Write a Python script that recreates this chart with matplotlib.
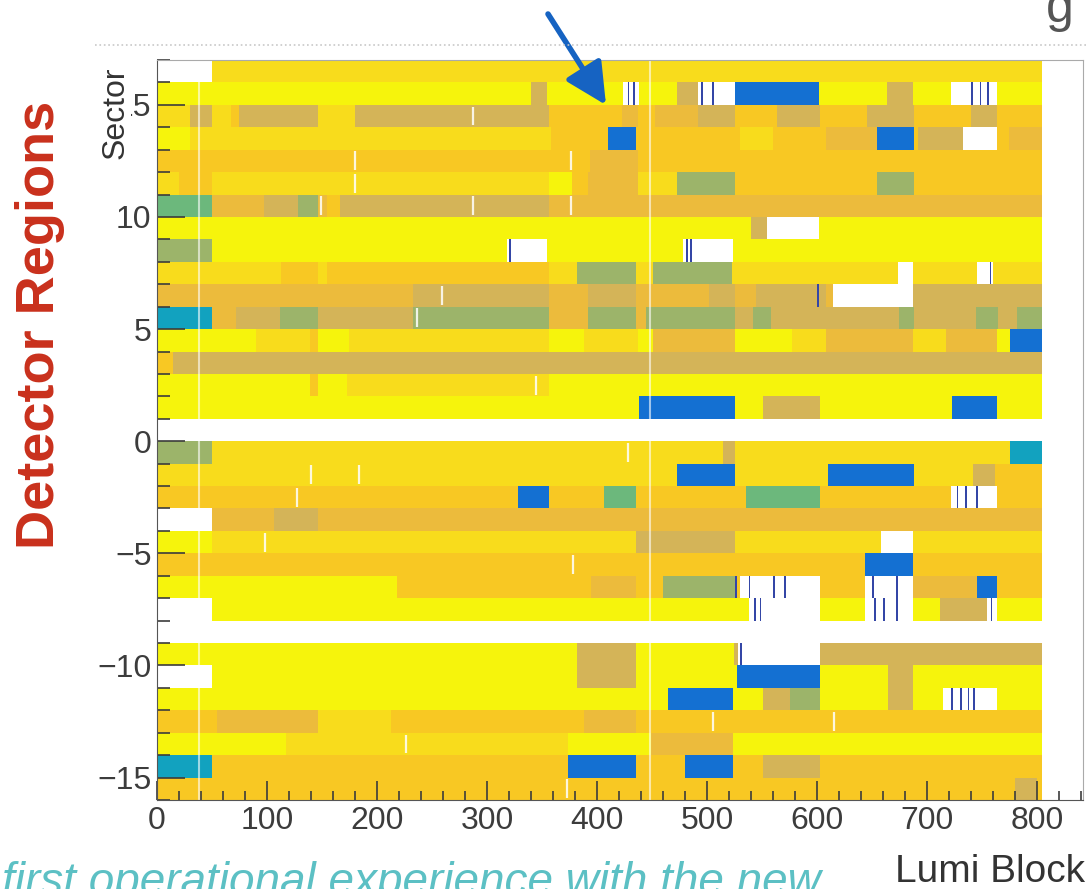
import matplotlib.pyplot as plt
from matplotlib.lines import Line2D

plt.rcParams['font.family'] = ['Liberation Sans', 'DejaVu Sans']

# colour code -> colour (the histogram palette)
palette = {
    'Y': '#f6f40c',  # bright yellow
    'F': '#f8dc1c',  # gold
    'O': '#f8c823',  # orange yellow
    'Q': '#ecbb3c',  # orange tan
    'T': '#d4b458',  # tan
    'G': '#9cb46a',  # grey green
    'E': '#6cb87c',  # green
    'B': '#1470d2',  # blue
    'C': '#12a2bf',  # teal
    'W': '#ffffff',  # empty
}

# one list per sector row: (first lumi block, last lumi block, colour code)
s16 = [(0, 50, 'W'), (50, 805, 'F')]
s15 = [(0, 340, 'Y'), (340, 355, 'T'), (355, 424, 'Y'), (424, 438, 'W'), (438, 473, 'Y'),
       (473, 492, 'T'), (492, 526, 'W'), (526, 602, 'B'), (602, 664, 'Y'), (664, 687, 'T'),
       (687, 722, 'Y'), (722, 764, 'W'), (764, 805, 'Y')]
s14 = [(0, 30, 'F'), (30, 50, 'T'), (50, 67, 'F'), (67, 75, 'O'), (75, 146, 'T'), (146, 180, 'F'),
       (180, 356, 'T'), (356, 423, 'O'), (423, 437, 'Q'), (437, 453, 'O'), (453, 492, 'Q'),
       (492, 526, 'T'), (526, 564, 'O'), (564, 603, 'T'), (603, 646, 'O'), (646, 688, 'T'),
       (688, 740, 'O'), (740, 764, 'T'), (764, 805, 'O')]
s13 = [(0, 30, 'Y'), (30, 358, 'F'), (358, 410, 'O'), (410, 436, 'B'), (436, 530, 'O'),
       (530, 560, 'F'), (560, 608, 'O'), (608, 655, 'Q'), (655, 688, 'B'), (688, 692, 'O'),
       (692, 733, 'T'), (733, 764, 'W'), (764, 775, 'O'), (775, 805, 'Q')]
s12 = [(0, 394, 'O'), (394, 437, 'Q'), (437, 805, 'O')]
s11 = [(0, 20, 'F'), (20, 50, 'O'), (50, 356, 'F'), (356, 377, 'Y'), (377, 392, 'O'),
       (392, 437, 'Q'), (437, 473, 'F'), (473, 526, 'G'), (526, 655, 'O'), (655, 688, 'G'),
       (688, 805, 'O')]
s10 = [(0, 50, 'E'), (50, 97, 'Q'), (97, 128, 'T'), (128, 146, 'G'), (146, 155, 'Q'),
       (155, 166, 'O'), (166, 356, 'T'), (356, 805, 'Q')]
s9 = [(0, 540, 'Y'), (540, 555, 'T'), (555, 602, 'W'), (602, 805, 'Y')]
s8 = [(0, 50, 'G'), (50, 318, 'Y'), (318, 355, 'W'), (355, 478, 'Y'), (478, 524, 'W'),
      (524, 805, 'Y')]
s7 = [(0, 113, 'F'), (113, 146, 'O'), (146, 155, 'F'), (155, 356, 'O'), (356, 382, 'F'),
      (382, 436, 'G'), (436, 451, 'F'), (451, 523, 'G'), (523, 674, 'F'), (674, 687, 'W'),
      (687, 746, 'F'), (746, 760, 'W'), (760, 805, 'F')]
s6 = [(0, 233, 'Q'), (233, 356, 'T'), (356, 392, 'Q'), (392, 436, 'T'), (436, 502, 'Q'),
      (502, 526, 'T'), (526, 545, 'Q'), (545, 608, 'T'), (608, 615, 'Q'), (615, 687, 'W'),
      (687, 805, 'T')]
s5 = [(0, 50, 'C'), (50, 72, 'Q'), (72, 112, 'T'), (112, 146, 'G'), (146, 233, 'T'),
      (233, 356, 'G'), (356, 392, 'Q'), (392, 436, 'G'), (436, 445, 'Q'), (445, 526, 'G'),
      (526, 542, 'T'), (542, 558, 'G'), (558, 675, 'T'), (675, 688, 'G'), (688, 745, 'T'),
      (745, 765, 'G'), (765, 782, 'T'), (782, 805, 'G')]
s4 = [(0, 90, 'Y'), (90, 139, 'F'), (139, 146, 'O'), (146, 175, 'Y'), (175, 356, 'F'),
      (356, 388, 'Y'), (388, 437, 'F'), (437, 451, 'Y'), (451, 526, 'Q'), (526, 577, 'Y'),
      (577, 608, 'F'), (608, 687, 'Q'), (687, 717, 'F'), (717, 764, 'Q'), (764, 776, 'Y'),
      (776, 805, 'B')]
s3 = [(0, 15, 'O'), (15, 805, 'T')]
s2 = [(0, 139, 'Y'), (139, 146, 'O'), (146, 173, 'Y'), (173, 356, 'F'), (356, 805, 'Y')]
s1 = [(0, 438, 'Y'), (438, 526, 'B'), (526, 551, 'Y'), (551, 603, 'T'), (603, 723, 'Y'),
      (723, 764, 'B'), (764, 805, 'Y')]
s0 = [(0, 805, 'W')]
m1 = [(0, 50, 'G'), (50, 515, 'F'), (515, 526, 'T'), (526, 776, 'F'), (776, 805, 'C')]
m2 = [(0, 473, 'F'), (473, 526, 'B'), (526, 610, 'F'), (610, 688, 'B'), (688, 742, 'F'),
      (742, 762, 'T'), (762, 805, 'O')]
m3 = [(0, 328, 'O'), (328, 356, 'B'), (356, 406, 'O'), (406, 436, 'E'), (436, 536, 'O'),
      (536, 603, 'E'), (603, 722, 'O'), (722, 764, 'W'), (764, 805, 'O')]
m4 = [(0, 50, 'W'), (50, 106, 'Q'), (106, 146, 'T'), (146, 805, 'Q')]
m5 = [(0, 50, 'Y'), (50, 436, 'F'), (436, 526, 'T'), (526, 658, 'F'), (658, 687, 'W'),
      (687, 805, 'F')]
m6 = [(0, 644, 'O'), (644, 687, 'B'), (687, 805, 'O')]
m7 = [(0, 218, 'Y'), (218, 395, 'O'), (395, 436, 'Q'), (436, 460, 'O'), (460, 526, 'G'),
      (526, 530, 'O'), (530, 603, 'W'), (603, 644, 'O'), (644, 687, 'W'), (687, 746, 'Q'),
      (746, 764, 'B'), (764, 805, 'O')]
m8 = [(0, 50, 'W'), (50, 538, 'Y'), (538, 603, 'W'), (603, 644, 'Y'), (644, 687, 'W'),
      (687, 712, 'Y'), (712, 755, 'T'), (755, 764, 'W'), (764, 805, 'Y')]
m9 = [(0, 805, 'W')]
m10 = [(0, 382, 'Y'), (382, 436, 'T'), (436, 525, 'Y'), (525, 528, 'T'), (528, 603, 'W'),
       (603, 805, 'T')]
m11 = [(0, 50, 'W'), (50, 382, 'Y'), (382, 436, 'T'), (436, 527, 'Y'), (527, 603, 'B'),
       (603, 665, 'Y'), (665, 687, 'T'), (687, 805, 'Y')]
m12 = [(0, 465, 'Y'), (465, 524, 'B'), (524, 551, 'Y'), (551, 576, 'T'), (576, 603, 'G'),
       (603, 665, 'Y'), (665, 687, 'T'), (687, 715, 'Y'), (715, 764, 'W'), (764, 805, 'Y')]
m13 = [(0, 55, 'O'), (55, 146, 'Q'), (146, 213, 'F'), (213, 388, 'O'), (388, 436, 'Q'),
       (436, 805, 'O')]
m14 = [(0, 117, 'Y'), (117, 374, 'F'), (374, 449, 'Y'), (449, 524, 'Q'), (524, 805, 'Y')]
m15 = [(0, 50, 'C'), (50, 374, 'O'), (374, 436, 'B'), (436, 480, 'O'), (480, 524, 'B'),
       (524, 551, 'O'), (551, 603, 'T'), (603, 805, 'O')]
m16 = [(0, 780, 'O'), (780, 800, 'T'), (800, 805, 'O')]

rows = {16: s16, 15: s15, 14: s14, 13: s13, 12: s12, 11: s11, 10: s10, 9: s9, 8: s8,
        7: s7, 6: s6, 5: s5, 4: s4, 3: s3, 2: s2, 1: s1, 0: s0,
        -1: m1, -2: m2, -3: m3, -4: m4, -5: m5, -6: m6, -7: m7, -8: m8, -9: m9,
        -10: m10, -11: m11, -12: m12, -13: m13, -14: m14, -15: m15, -16: m16}

# thin dark blue bins inside the mostly empty stretches: (sector, lumi block)
stripes = [(15, 428), (15, 433), (15, 495), (15, 505), (15, 740), (15, 748), (15, 755),
           (8, 320), (8, 481), (8, 485), (7, 757), (6, 600),
           (-3, 727), (-3, 735), (-3, 745),
           (-7, 526), (-7, 538), (-7, 560), (-7, 570), (-7, 650), (-7, 672),
           (-8, 543), (-8, 548), (-8, 652), (-8, 660), (-8, 672), (-8, 758),
           (-10, 530), (-12, 722), (-12, 730), (-12, 737), (-12, 742)]

# single empty bins showing as short white lines
gaps = [(14, 287), (12, 180), (12, 376), (11, 180), (10, 149), (10, 287), (10, 376),
        (6, 259), (5, 236), (2, 345), (-1, 428), (-2, 140), (-2, 184), (-3, 127),
        (-5, 98), (-6, 378), (-13, 506), (-13, 616), (-14, 226), (-16, 373)]
full_gaps = [38, 448]

fig = plt.figure(figsize=(10.88, 8.89), dpi=100)
ax = fig.add_axes([157 / 1088, 1 - 800 / 889, 926 / 1088, 740 / 889])

ys, lefts, widths, cols = [], [], [], []
for sector, segs in rows.items():
    for x0, x1, code in segs:
        ys.append(sector + 0.5)
        lefts.append(x0)
        widths.append(x1 - x0)
        cols.append(palette[code])
ax.barh(ys, widths, left=lefts, height=1.0, color=cols, linewidth=0)

ax.bar([lb for s, lb in stripes], 1.0, bottom=[s for s, lb in stripes], width=1.6,
       color='#3446a6', linewidth=0, align='edge')
ax.vlines([lb for s, lb in gaps], [s + 0.08 for s, lb in gaps], [s + 0.92 for s, lb in gaps],
          color='white', lw=1.6, alpha=0.85)
ax.vlines(full_gaps, -16, 17, color='white', lw=1.5, alpha=0.6)

ax.set_xlim(0, 842)
ax.set_ylim(-16, 17)
ax.set_xticks(range(0, 801, 100))
ax.set_xticks(range(0, 841, 20), minor=True)
ax.set_yticks(range(-15, 16, 5))
ax.set_yticks(range(-16, 18), minor=True)
ax.tick_params(axis='both', which='both', direction='in', colors='#3c3c3c', width=1.2,
               labelsize=23, pad=4)
ax.tick_params(axis='x', which='major', length=14)
ax.tick_params(axis='x', which='minor', length=6.5)
ax.tick_params(axis='y', which='major', length=20)
ax.tick_params(axis='y', which='minor', length=9.5)
for side in ['left', 'bottom']:
    ax.spines[side].set_color('#555555')
for side in ['top', 'right']:
    ax.spines[side].set_color('#aaaaaa')

fig.text(116 / 1088, 1 - 113 / 889, 'Sector', rotation=90, size=23, color='#333333',
         ha='center', va='center', bbox=dict(fc='white', ec='none', pad=0))
fig.text(1085 / 1088, 1 - 882 / 889, 'Lumi Block', size=28, color='#333333',
         ha='right', va='baseline')
fig.text(40 / 1088, 1 - 325 / 889, 'Detector Regions', rotation=90, size=39,
         weight='bold', color='#c9301c', ha='center', va='center')
fig.text(2 / 1088, -6 / 889, 'first operational experience with the new', size=33,
         style='italic', color='#5cc0c4', ha='left', va='baseline')
fig.text(1060 / 1088, 1 - 22 / 889, 'g', size=36, color='#555555', ha='center',
         va='baseline')

# dotted slide rule along the top and the arrow pointing at the marked bins
fig.add_artist(Line2D([95 / 1088, 1], [1 - 45 / 889, 1 - 45 / 889], ls=':', lw=1.2,
                      color='#c8c8c8'))
ax.annotate('', xy=(606, 889 - 105), xycoords='figure pixels',
            xytext=(548, 889 - 14), textcoords='figure pixels',
            arrowprops=dict(arrowstyle='-|>,head_length=1.4,head_width=0.7', lw=4,
                            color='#1663c2', mutation_scale=18, shrinkA=0, shrinkB=0))

fig.savefig('out.png', dpi=100)
